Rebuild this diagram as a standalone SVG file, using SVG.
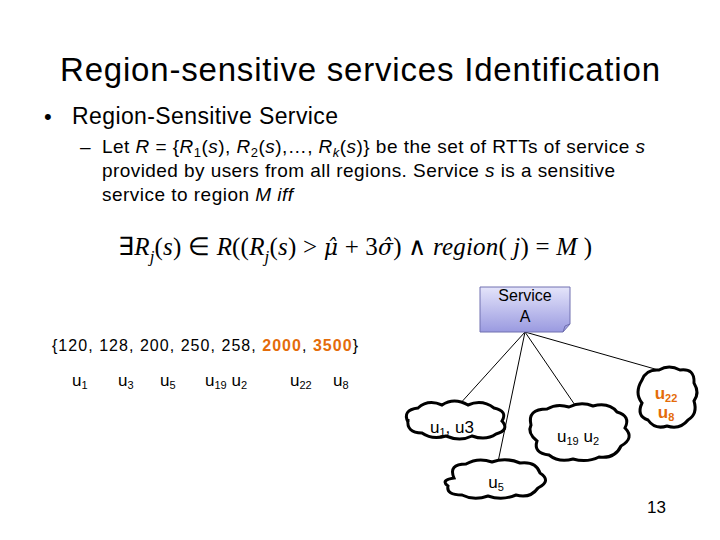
<svg xmlns="http://www.w3.org/2000/svg" width="720" height="540" viewBox="0 0 720 540">
<defs>
<linearGradient id="g" x1="0" y1="0" x2="0" y2="1"><stop offset="0" stop-color="#e4e4fa"/><stop offset="1" stop-color="#9a9ae0"/></linearGradient>
</defs>
<style>
text{font-family:"Liberation Sans",Arial,sans-serif;fill:#000}
.m{font-family:"Liberation Serif","Times New Roman",serif;font-size:25px}
.h{font-family:"DejaVu Serif",serif;font-size:22px}
.cl{fill:#fff;stroke:#000;stroke-width:3}
.o{fill:#e46c0a;font-weight:bold}
</style>
<rect width="720" height="540" fill="#fff"/>
<text x="60" y="81" font-size="33" textLength="600">Region-sensitive services Identification</text>
<text x="44" y="124" font-size="22">•</text>
<text x="72" y="124" font-size="23" textLength="266">Region-Sensitive Service</text>
<text x="80" y="153" font-size="19">–</text>
<text x="102" y="153" font-size="19" textLength="543">Let <tspan font-style="italic">R</tspan> = {<tspan font-style="italic">R</tspan><tspan font-size="13" dy="4">1</tspan><tspan dy="-4">(</tspan><tspan font-style="italic">s</tspan>), <tspan font-style="italic">R</tspan><tspan font-size="13" dy="4">2</tspan><tspan dy="-4">(</tspan><tspan font-style="italic">s</tspan>),…, <tspan font-style="italic">R</tspan><tspan font-size="13" font-style="italic" dy="4">k</tspan><tspan dy="-4">(</tspan><tspan font-style="italic">s</tspan>)} be the set of RTTs of service <tspan font-style="italic">s</tspan></text>
<text x="102" y="177" font-size="19" textLength="513">provided by users from all regions. Service <tspan font-style="italic">s</tspan> is a sensitive</text>
<text x="102" y="201" font-size="19" textLength="191">service to region <tspan font-style="italic">M iff</tspan></text>
<text class="m" x="118" y="255" textLength="474">∃<tspan font-style="italic">R</tspan><tspan font-style="italic" font-size="17" dy="7">j</tspan><tspan dy="-7">(</tspan><tspan font-style="italic">s</tspan>) ∈ <tspan font-style="italic">R</tspan>((<tspan font-style="italic">R</tspan><tspan font-style="italic" font-size="17" dy="7">j</tspan><tspan dy="-7">(</tspan><tspan font-style="italic">s</tspan>) &gt; <tspan class="h" font-style="italic">μ̂</tspan> + 3<tspan class="h" font-style="italic">σ̂</tspan>) ∧ <tspan font-style="italic">region</tspan>( <tspan font-style="italic">j</tspan>) = <tspan font-style="italic">M</tspan> )</text>
<text x="52" y="351" font-size="16" textLength="306">{120, 128, 200, 250, 258, <tspan class="o" style="fill:#e46c0a">2000</tspan>, <tspan class="o" style="fill:#e46c0a">3500</tspan>}</text>
<g font-size="17">
<text x="72" y="386">u<tspan font-size="11" dy="3">1</tspan></text>
<text x="118" y="386">u<tspan font-size="11" dy="3">3</tspan></text>
<text x="160" y="386">u<tspan font-size="11" dy="3">5</tspan></text>
<text x="205" y="386">u<tspan font-size="11" dy="3">19</tspan><tspan dy="-3">  u</tspan><tspan font-size="11" dy="3">2</tspan></text>
<text x="290" y="386">u<tspan font-size="11" dy="3">22</tspan></text>
<text x="333" y="386">u<tspan font-size="11" dy="3">8</tspan></text>
</g>
<g id="connectors" stroke="#000" stroke-width="1">
<line x1="525" y1="332" x2="458" y2="406"/>
<line x1="525" y1="332" x2="498" y2="462"/>
<line x1="525" y1="332" x2="577" y2="408"/>
<line x1="525" y1="332" x2="662" y2="371"/>
</g>
<g id="service">
<path d="M480 287 H570 V324 L563 332 H480 Z" fill="url(#g)" stroke="#7070b0"/>
<path d="M563 332 L565 326 L570 324" fill="none" stroke="#7070b0"/>
<text x="525" y="301" font-size="16" text-anchor="middle">Service</text>
<text x="525" y="322" font-size="16" text-anchor="middle">A</text>
</g>
<g id="c1">
<path class="cl" d="M408 422 q-6 -12 10 -14 q10 -9 24 -3 q12 -8 26 0 q14 -6 26 3 q14 3 8 13 q8 9 -6 13 q-10 7 -24 2 q-12 6 -26 0 q-14 4 -24 -3 q-16 0 -14 -14 z"/>
<text x="452" y="433" font-size="17" text-anchor="middle">u<tspan font-size="11" dy="3">1</tspan><tspan dy="-3">, u3</tspan></text>
</g>
<g id="c2">
<path class="cl" d="M454 478 q-6 -14 12 -14 q12 -7 26 -2 q14 -5 28 1 q16 -2 20 10 q12 8 -2 15 q-8 11 -22 7 q-14 6 -28 1 q-14 5 -26 -1 q-16 0 -14 -9 q-8 -6 6 -8 z"/>
<text x="496" y="488" font-size="17" text-anchor="middle">u<tspan font-size="11" dy="3">5</tspan></text>
</g>
<g id="c3">
<path class="cl" d="M531 425 q-4 -16 16 -16 q10 -6 22 -2 q12 -6 24 -1 q16 -4 24 6 q14 4 8 16 q10 10 -4 18 q-6 13 -22 11 q-12 6 -26 2 q-14 4 -24 -4 q-16 -2 -12 -14 q-10 -8 -6 -16 z"/>
<text x="578" y="442" font-size="17" text-anchor="middle">u<tspan font-size="11" dy="3">19</tspan><tspan dy="-3"> u</tspan><tspan font-size="11" dy="3">2</tspan></text>
</g>
<g id="c4">
<path class="cl" d="M642 380 q4 -11 17 -10 q10 -6 21 0 q15 -2 14 13 q6 10 0 18 q4 13 -6 19 q-8 10 -21 6 q-12 4 -19 -6 q-12 -4 -6 -17 q-8 -10 0 -23 z"/>
<text x="666" y="399" font-size="17" class="o" text-anchor="middle">u<tspan font-size="11" dy="3">22</tspan></text>
<text x="666" y="418" font-size="17" class="o" text-anchor="middle">u<tspan font-size="11" dy="3">8</tspan></text>
</g>
<text x="647" y="513" font-size="17">13</text>
</svg>
